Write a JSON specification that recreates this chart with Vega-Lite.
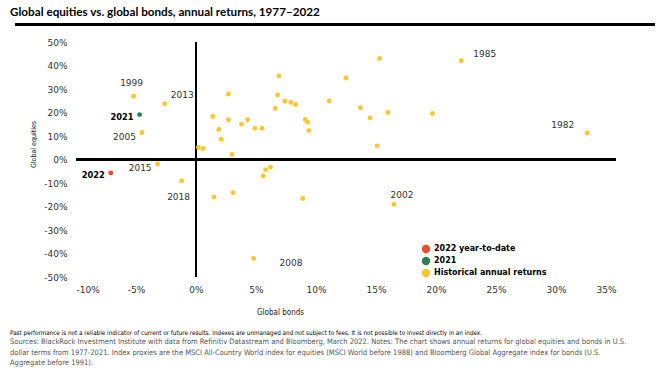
{
  "$schema": "https://vega.github.io/schema/vega-lite/v6.json",
  "padding": {"left": 10, "top": 7, "right": 5, "bottom": 5},
  "background": "white",
  "title": {"text": "Global equities vs. global bonds, annual returns, 1977–2022", "anchor": "start", "font": "Lato", "fontSize": 11.7, "fontWeight": "bold", "color": "#000000", "offset": 4},
  "config": {"view": {"stroke": null}},
  "spacing": 12,
  "datasets": {
    "returns": [
      {"bonds": -5.2, "equities": 26.9, "series": "Historical annual returns", "year": "1999"},
      {"bonds": -2.6, "equities": 23.7, "series": "Historical annual returns", "year": "2013"},
      {"bonds": -4.5, "equities": 11.5, "series": "Historical annual returns", "year": "2005"},
      {"bonds": -3.2, "equities": -1.9, "series": "Historical annual returns", "year": "2015"},
      {"bonds": -1.2, "equities": -9.1, "series": "Historical annual returns", "year": "2018"},
      {"bonds": 4.8, "equities": -42.1, "series": "Historical annual returns", "year": "2008"},
      {"bonds": 16.5, "equities": -19.1, "series": "Historical annual returns", "year": "2002"},
      {"bonds": 22.1, "equities": 42.0, "series": "Historical annual returns", "year": "1985"},
      {"bonds": 32.6, "equities": 11.3, "series": "Historical annual returns", "year": "1982"},
      {"bonds": 0.2, "equities": 5.1, "series": "Historical annual returns", "year": ""},
      {"bonds": 0.6, "equities": 4.7, "series": "Historical annual returns", "year": ""},
      {"bonds": 1.4, "equities": 18.3, "series": "Historical annual returns", "year": ""},
      {"bonds": 1.9, "equities": 12.8, "series": "Historical annual returns", "year": ""},
      {"bonds": 2.1, "equities": 8.6, "series": "Historical annual returns", "year": ""},
      {"bonds": 2.7, "equities": 27.9, "series": "Historical annual returns", "year": ""},
      {"bonds": 2.7, "equities": 16.9, "series": "Historical annual returns", "year": ""},
      {"bonds": 3.0, "equities": 2.1, "series": "Historical annual returns", "year": ""},
      {"bonds": 3.8, "equities": 15.0, "series": "Historical annual returns", "year": ""},
      {"bonds": 4.3, "equities": 16.9, "series": "Historical annual returns", "year": ""},
      {"bonds": 4.9, "equities": 13.3, "series": "Historical annual returns", "year": ""},
      {"bonds": 5.5, "equities": 13.3, "series": "Historical annual returns", "year": ""},
      {"bonds": 6.6, "equities": 21.7, "series": "Historical annual returns", "year": ""},
      {"bonds": 6.8, "equities": 27.5, "series": "Historical annual returns", "year": ""},
      {"bonds": 6.9, "equities": 35.6, "series": "Historical annual returns", "year": ""},
      {"bonds": 7.4, "equities": 24.8, "series": "Historical annual returns", "year": ""},
      {"bonds": 7.9, "equities": 24.3, "series": "Historical annual returns", "year": ""},
      {"bonds": 8.3, "equities": 23.4, "series": "Historical annual returns", "year": ""},
      {"bonds": 9.1, "equities": 17.0, "series": "Historical annual returns", "year": ""},
      {"bonds": 9.3, "equities": 15.9, "series": "Historical annual returns", "year": ""},
      {"bonds": 9.4, "equities": 12.3, "series": "Historical annual returns", "year": ""},
      {"bonds": 11.1, "equities": 24.9, "series": "Historical annual returns", "year": ""},
      {"bonds": 12.5, "equities": 34.7, "series": "Historical annual returns", "year": ""},
      {"bonds": 13.7, "equities": 22.0, "series": "Historical annual returns", "year": ""},
      {"bonds": 14.5, "equities": 17.7, "series": "Historical annual returns", "year": ""},
      {"bonds": 15.1, "equities": 5.8, "series": "Historical annual returns", "year": ""},
      {"bonds": 15.3, "equities": 43.0, "series": "Historical annual returns", "year": ""},
      {"bonds": 16.0, "equities": 20.0, "series": "Historical annual returns", "year": ""},
      {"bonds": 19.7, "equities": 19.6, "series": "Historical annual returns", "year": ""},
      {"bonds": 1.5, "equities": -16.0, "series": "Historical annual returns", "year": ""},
      {"bonds": 3.1, "equities": -14.1, "series": "Historical annual returns", "year": ""},
      {"bonds": 5.6, "equities": -7.0, "series": "Historical annual returns", "year": ""},
      {"bonds": 5.8, "equities": -4.4, "series": "Historical annual returns", "year": ""},
      {"bonds": 6.2, "equities": -3.3, "series": "Historical annual returns", "year": ""},
      {"bonds": 8.9, "equities": -16.6, "series": "Historical annual returns", "year": ""},
      {"bonds": -4.7, "equities": 19.1, "series": "2021", "year": "2021"},
      {"bonds": -7.1, "equities": -5.7, "series": "2022 year-to-date", "year": "2022"}
    ]
  },
  "vconcat": [
    {
      "width": 640,
      "height": 3,
      "data": {"values": []},
      "mark": "point",
      "view": {"fill": "#000000", "stroke": null}
    },
    {
      "spacing": 0,
      "hconcat": [
        {"width": 14, "height": 1, "data": {"values": []}, "mark": "point"},
        {
          "width": 540,
          "height": 235,
          "data": {"name": "returns"},
          "encoding": {
            "x": {"field": "bonds", "type": "quantitative",
              "scale": {"domain": [-10, 35], "nice": false, "zero": false},
              "axis": {"values": [-10, -5, 0, 5, 10, 15, 20, 25, 30, 35], "labelExpr": "datum.value + '%'", "grid": false, "domain": false, "ticks": false, "labelPadding": 8, "labelFont": "DejaVu Sans", "labelFontSize": 9, "labelColor": "#333333", "title": "Global bonds", "titleFont": "DejaVu Sans Condensed", "titleFontSize": 8, "titleFontWeight": "normal", "titleColor": "#222222", "titleX": 204, "titleAlign": "center", "titlePadding": 14}},
            "y": {"field": "equities", "type": "quantitative",
              "scale": {"domain": [-50, 50], "nice": false, "zero": false},
              "axis": {"values": [-50, -40, -30, -20, -10, 0, 10, 20, 30, 40, 50], "labelExpr": "datum.value + '%'", "grid": false, "domain": false, "ticks": false, "labelPadding": 9, "labelFont": "DejaVu Sans", "labelFontSize": 9, "labelColor": "#333333", "title": "Global equities", "titleFont": "DejaVu Sans Condensed", "titleFontSize": 7, "titleFontWeight": "normal", "titleColor": "#222222", "titleY": 102, "titlePadding": 7}}
          },
          "layer": [
            {"mark": {"type": "rule", "color": "#000000", "strokeWidth": 2}, "encoding": {"x": {"datum": 0}, "y": null}},
            {"mark": {"type": "rule", "color": "#000000", "strokeWidth": 2.3}, "encoding": {"y": {"datum": 0}, "x": null}},
            {
              "mark": {"type": "circle", "opacity": 1, "size": 24},
              "encoding": {
                "color": {"field": "series", "type": "nominal",
                  "scale": {"domain": ["2022 year-to-date", "2021", "Historical annual returns"], "range": ["#EF4B2C", "#2E7D4E", "#FFC72C"]},
                  "legend": {"title": null, "orient": "none", "legendX": 406, "legendY": 221, "symbolType": "circle", "symbolSize": 70, "symbolOpacity": 1, "labelFont": "DejaVu Sans", "labelFontSize": 8, "labelFontWeight": "bold", "labelColor": "#000000", "rowPadding": 2, "labelOffset": 3, "padding": 0}}
              }
            },
            {"transform": [{"filter": "datum.year == '1999'"}], "mark": {"type": "text", "font": "DejaVu Sans", "fontSize": 9, "color": "#333333", "align": "center", "baseline": "middle", "dx": -2, "dy": -13}, "encoding": {"text": {"field": "year"}}},
            {"transform": [{"filter": "datum.year == '2013'"}], "mark": {"type": "text", "font": "DejaVu Sans", "fontSize": 9, "color": "#333333", "align": "left", "baseline": "middle", "dx": 6, "dy": -9}, "encoding": {"text": {"field": "year"}}},
            {"transform": [{"filter": "datum.year == '2005' || datum.year == '2015'"}], "mark": {"type": "text", "font": "DejaVu Sans", "fontSize": 9, "color": "#333333", "align": "right", "baseline": "middle", "dx": -6, "dy": 4.5}, "encoding": {"text": {"field": "year"}}},
            {"transform": [{"filter": "datum.year == '2021' || datum.year == '2022'"}], "mark": {"type": "text", "font": "DejaVu Sans", "fontSize": 8.3, "fontWeight": "bold", "color": "#000000", "align": "right", "baseline": "middle", "dx": -6, "dy": 3}, "encoding": {"text": {"field": "year"}}},
            {"transform": [{"filter": "datum.year == '2018'"}], "mark": {"type": "text", "font": "DejaVu Sans", "fontSize": 9, "color": "#333333", "align": "center", "baseline": "middle", "dx": -3, "dy": 16}, "encoding": {"text": {"field": "year"}}},
            {"transform": [{"filter": "datum.year == '2008'"}], "mark": {"type": "text", "font": "DejaVu Sans", "fontSize": 9, "color": "#333333", "align": "left", "baseline": "middle", "dx": 26, "dy": 5}, "encoding": {"text": {"field": "year"}}},
            {"transform": [{"filter": "datum.year == '2002'"}], "mark": {"type": "text", "font": "DejaVu Sans", "fontSize": 9, "color": "#333333", "align": "center", "baseline": "middle", "dx": 8, "dy": -9}, "encoding": {"text": {"field": "year"}}},
            {"transform": [{"filter": "datum.year == '1985'"}], "mark": {"type": "text", "font": "DejaVu Sans", "fontSize": 9, "color": "#333333", "align": "left", "baseline": "middle", "dx": 12, "dy": -7}, "encoding": {"text": {"field": "year"}}},
            {"transform": [{"filter": "datum.year == '1982'"}], "mark": {"type": "text", "font": "DejaVu Sans", "fontSize": 9, "color": "#333333", "align": "right", "baseline": "middle", "dx": -13, "dy": -8}, "encoding": {"text": {"field": "year"}}}
          ]
        }
      ]
    },
    {
      "width": 640,
      "height": 1,
      "data": {"values": []},
      "mark": "point",
      "title": {
        "text": "Past performance is not a reliable indicator of current or future results. Indexes are unmanaged and not subject to fees. It is not possible to invest directly in an index.",
        "subtitle": ["Sources: BlackRock Investment Institute with data from Refinitiv Datastream and Bloomberg,  March 2022. Notes: The chart shows annual returns for global equities and bonds in U.S.", "dollar terms from 1977-2021. Index proxies are the MSCI All-Country World index for equities (MSCI World before 1988) and Bloomberg Global Aggregate index for bonds (U.S.", "Aggregate before 1991)."],
        "anchor": "start", "orient": "bottom", "offset": 1, "dx": -5,
        "font": "DejaVu Sans Condensed", "fontSize": 6.3, "fontWeight": "normal", "color": "#000000",
        "subtitleFont": "DejaVu Sans Condensed", "subtitleFontSize": 7.5, "subtitleColor": "#555555", "subtitleLineHeight": 10.5, "subtitlePadding": 2
      }
    }
  ]
}
